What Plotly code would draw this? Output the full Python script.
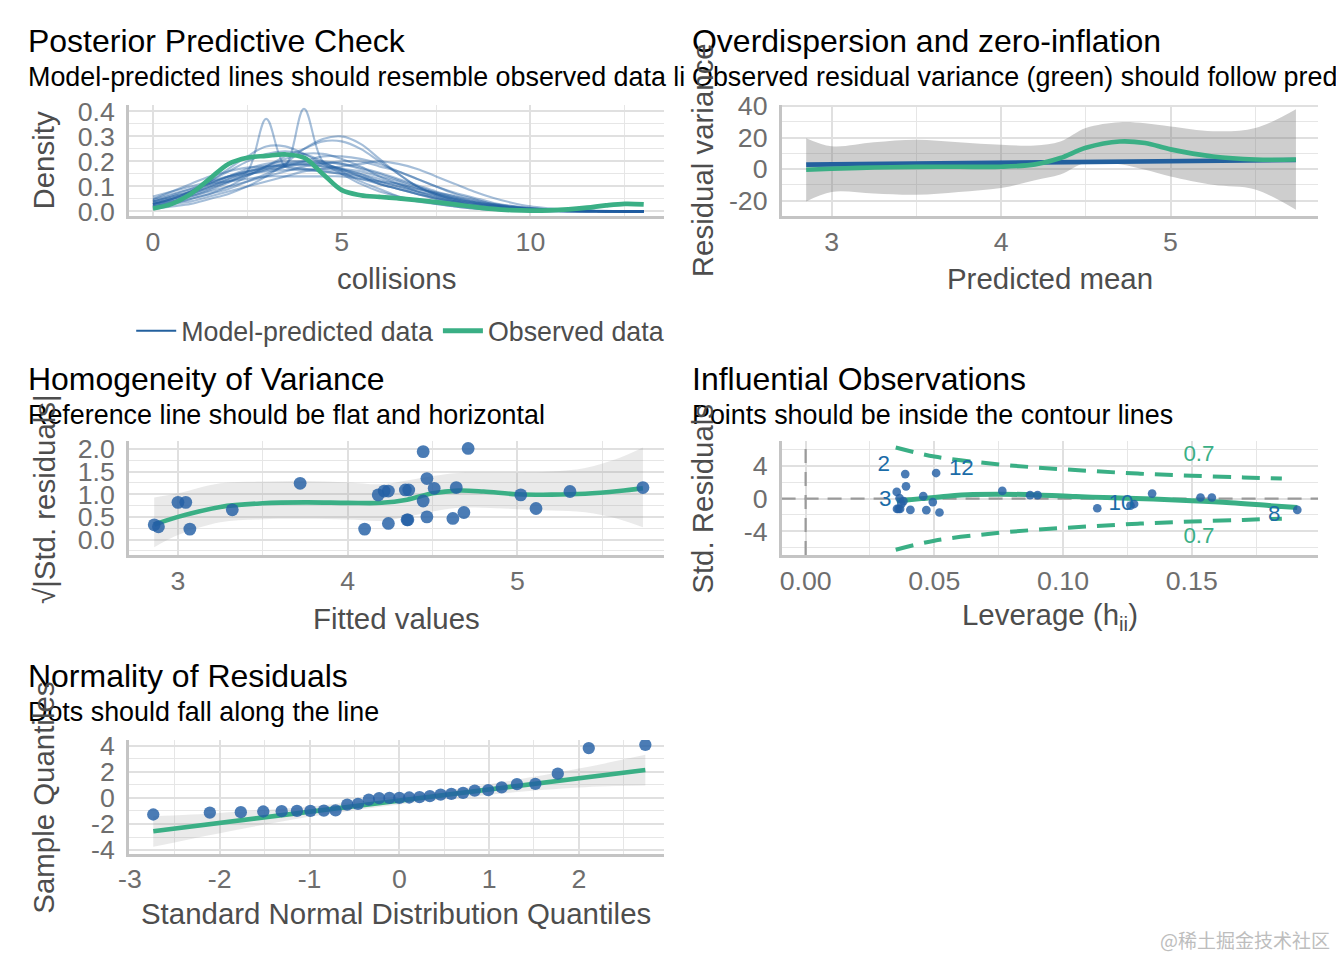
import plotly.graph_objects as go

FONT = "Liberation Sans, Arial, Helvetica, sans-serif"
GREEN = "#3aaf85"
BLUE = "#1b6ca8"
BLUE_DARK = "#23609e"
POINT = "rgba(35,95,165,0.82)"
GRID = "#e0e0e0"
GRID_MINOR = "#e6e6e6"
AXIS_LINE = "#c4c4c4"
TICK_COLOR = "#6e6e6e"
AXIS_TITLE_COLOR = "#4d4d4d"

# ---------------- Panel 1: Posterior predictive check ----------------
ppc_x = [0, 0.5, 1, 1.5, 2, 2.5, 3, 3.5, 4, 4.5, 5, 5.5, 6, 6.5, 7, 7.5, 8, 8.5,
         9, 9.5, 10, 10.5, 11, 11.5, 12, 12.5, 13]
ppc_observed = [0.012, 0.03, 0.07, 0.13, 0.19, 0.215, 0.222, 0.228, 0.215, 0.15, 0.085,
                0.065, 0.058, 0.052, 0.045, 0.037, 0.028, 0.018, 0.01, 0.005, 0.003,
                0.004, 0.008, 0.015, 0.024, 0.03, 0.028]
ppc_simulated = [
    [.04, .06, .08, .11, .14, .17, .19, .20, .20, .19, .17, .15, .12, .10, .08, .06, .045, .03, .02, .013, .008, .005, .003, .002, .001, .001, .001],
    [.03, .05, .08, .12, .16, .20, .23, .24, .23, .20, .16, .12, .09, .06, .04, .03, .02, .012, .007, .004, .002, .001, .001, 0, 0, 0, 0],
    [.02, .03, .05, .07, .10, .14, .18, .22, .25, .28, .28, .25, .20, .15, .10, .07, .045, .028, .016, .009, .005, .003, .001, .001, 0, 0, 0],
    [.03, .05, .07, .10, .13, .16, .37, .18, .17, .17, .16, .14, .11, .09, .07, .05, .035, .022, .013, .008, .004, .002, .001, 0, 0, 0, 0],
    [.04, .06, .08, .11, .14, .16, .17, .18, .41, .20, .17, .14, .11, .09, .07, .05, .04, .025, .015, .009, .005, .003, .001, 0, 0, 0, 0],
    [.05, .07, .09, .11, .12, .13, .14, .14, .14, .14, .14, .13, .12, .11, .09, .075, .06, .045, .03, .02, .013, .008, .005, .003, .002, .001, .001],
    [.02, .035, .05, .07, .09, .12, .15, .18, .20, .22, .22, .21, .19, .16, .13, .10, .07, .05, .03, .02, .012, .007, .004, .002, .001, .001, 0],
    [.05, .08, .11, .14, .16, .175, .18, .18, .17, .16, .15, .13, .11, .09, .07, .055, .04, .03, .02, .012, .007, .004, .002, .001, .001, 0, 0],
    [.01, .02, .03, .05, .07, .10, .14, .19, .25, .29, .30, .27, .21, .15, .10, .065, .04, .02, .01, .005, .002, .001, 0, 0, 0, 0, 0],
    [.03, .05, .08, .12, .17, .22, .26, .26, .23, .19, .15, .11, .08, .06, .045, .03, .02, .012, .007, .004, .002, .001, 0, 0, 0, 0, 0],
    [.03, .04, .06, .08, .10, .12, .14, .16, .18, .19, .20, .20, .18, .16, .13, .10, .075, .055, .035, .022, .013, .007, .004, .002, .001, 0, 0],
    [.06, .08, .10, .12, .14, .15, .16, .165, .165, .16, .15, .14, .12, .10, .08, .065, .05, .035, .025, .016, .01, .006, .003, .002, .001, 0, 0],
    [.03, .045, .065, .09, .12, .15, .18, .21, .23, .23, .21, .18, .14, .11, .08, .055, .035, .022, .013, .007, .004, .002, .001, 0, 0, 0, 0],
    [.02, .03, .04, .06, .08, .10, .12, .14, .16, .17, .18, .19, .20, .19, .17, .14, .11, .08, .055, .035, .02, .012, .006, .003, .001, 0, 0],
    [.04, .055, .075, .10, .13, .16, .18, .19, .19, .18, .17, .16, .14, .12, .095, .07, .05, .035, .022, .013, .008, .004, .002, .001, 0, 0, 0],
    [.035, .05, .07, .095, .12, .145, .165, .18, .19, .195, .19, .175, .155, .13, .105, .08, .06, .042, .028, .017, .01, .006, .003, .002, .001, 0, 0],
    [.045, .065, .09, .115, .14, .16, .175, .185, .185, .18, .165, .15, .13, .11, .09, .07, .052, .037, .025, .016, .01, .006, .003, .002, .001, .001, 0],
    [.025, .04, .06, .085, .115, .145, .17, .19, .20, .20, .19, .17, .15, .125, .10, .075, .055, .038, .024, .014, .008, .004, .002, .001, 0, 0, 0],
]

# ---------------- Panel 2: Overdispersion ----------------
od_x = [2.85, 3.0, 3.25, 3.5, 3.75, 4.0, 4.2, 4.35, 4.5, 4.7, 4.85, 5.0, 5.25, 5.5, 5.74]
od_predicted_var = [2.85, 3.0, 3.25, 3.5, 3.75, 4.0, 4.2, 4.35, 4.5, 4.7, 4.85, 5.0, 5.25, 5.5, 5.74]
od_observed_var = [-0.4, 0.2, 1.0, 1.4, 1.5, 1.5, 3.0, 7.0, 13.5, 17.5, 16.5, 12.5, 8.0, 6.1, 6.1]
od_lower = [-20.5, -14.5, -15.5, -16.3, -14.5, -12.0, -7.0, -3.5, 4.0, 3.0, -0.5, -4.7, -10.0, -13.0, -25.8]
od_upper = [19.6, 14.5, 17.0, 18.6, 17.0, 15.4, 15.0, 17.5, 26.0, 29.7, 29.0, 27.0, 24.0, 26.0, 37.9]

# ---------------- Panel 3: Homogeneity of variance ----------------
hv_fitted = [2.86, 2.885, 3.0, 3.046, 3.07, 3.32, 3.72, 4.10, 4.18, 4.215, 4.24, 4.24, 4.34, 4.36,
             4.35, 4.355, 4.445, 4.445, 4.467, 4.467, 4.51, 4.62, 4.64, 4.685, 4.71, 5.02, 5.11, 5.31, 5.74]
hv_sqrt_resid = [0.325, 0.28, 0.82, 0.82, 0.23, 0.655, 1.24, 0.23, 0.985, 1.07, 1.07, 0.355, 1.095, 1.095,
                 0.435, 0.435, 1.94, 0.85, 1.345, 0.50, 1.13, 0.465, 1.147, 0.597, 2.01, 0.985, 0.685, 1.06, 1.147]
hv_smooth_x = [2.86, 3.0, 3.25, 3.5, 3.75, 4.0, 4.2, 4.35, 4.5, 4.65, 4.8, 5.0, 5.2, 5.4, 5.6, 5.74]
hv_smooth_y = [0.33, 0.50, 0.72, 0.80, 0.82, 0.81, 0.81, 0.88, 1.02, 1.08, 1.06, 1.00, 0.99, 1.01, 1.07, 1.13]
hv_lower = [-0.17, 0.10, 0.38, 0.45, 0.46, 0.44, 0.41, 0.50, 0.62, 0.70, 0.70, 0.67, 0.64, 0.60, 0.45, 0.27]
hv_upper = [0.93, 1.02, 1.24, 1.28, 1.29, 1.26, 1.22, 1.30, 1.40, 1.47, 1.48, 1.48, 1.50, 1.58, 1.80, 2.03]

# ---------------- Panel 4: Influential observations ----------------
infl_leverage = [0.0354, 0.0355, 0.0361, 0.0367, 0.0365, 0.0387, 0.0390, 0.0372, 0.0407, 0.0380, 0.0457,
                 0.0469, 0.0494, 0.0507, 0.0520, 0.0764, 0.0872, 0.0901, 0.1133, 0.1276, 0.1262, 0.1346,
                 0.1534, 0.1578, 0.1910]
infl_std_resid = [0.82, -1.26, -1.26, -1.26, 0.05, 3.0, 1.5, -0.65, -1.38, -0.3, 0.3,
                  -1.41, -0.42, 3.13, -1.7, 0.94, 0.42, 0.42, -1.18, -0.66, -0.85, 0.62,
                  0.14, 0.14, -1.38]
infl_smooth_x = [0.0354, 0.045, 0.055, 0.065, 0.076, 0.09, 0.105, 0.12, 0.135, 0.15, 0.165, 0.18, 0.191]
infl_smooth_y = [-0.3, 0.0, 0.3, 0.5, 0.55, 0.45, 0.25, 0.1, -0.05, -0.25, -0.5, -0.85, -1.1]
cook_leverage = [0.035, 0.05, 0.07, 0.09, 0.11, 0.13, 0.15, 0.17, 0.185]
cook_upper = [6.25, 5.15, 4.35, 3.8, 3.4, 3.05, 2.8, 2.6, 2.45]
cook_lower = [-6.25, -5.15, -4.35, -3.8, -3.4, -3.05, -2.8, -2.6, -2.45]
cook_label_x = [0.1528, 0.1528]
cook_label_y = [5.3, -4.75]
cook_label_text = ["0.7", "0.7"]
infl_label_text = ["2", "12", "3", "10", "8"]
infl_label_x = [0.0303, 0.0605, 0.0309, 0.1225, 0.182]
infl_label_y = [4.1, 3.55, -0.2, -0.7, -2.1]
infl_reference_level = 0

# ---------------- Panel 5: Normality of residuals ----------------
qq_theoretical = [-2.74, -2.11, -1.765, -1.515, -1.31, -1.14, -0.99, -0.84, -0.71, -0.58, -0.46, -0.34,
                  -0.225, -0.11, 0, 0.11, 0.225, 0.34, 0.46, 0.58, 0.71, 0.84, 0.99, 1.14, 1.31,
                  1.515, 1.765, 2.11, 2.74]
qq_sample = [-1.27, -1.12, -1.09, -1.04, -1.02, -1.0, -0.99, -0.97, -0.95, -0.51, -0.46, -0.13,
             -0.02, 0.0, 0.01, 0.03, 0.06, 0.13, 0.25, 0.31, 0.38, 0.56, 0.59, 0.81, 1.05, 1.08,
             1.86, 3.82, 4.07]
qq_line_x = [-2.74, 2.74]
qq_line_y = [-2.55, 2.14]
qq_band_x = [-2.74, -2.0, -1.0, 0.0, 1.0, 2.0, 2.74]
qq_band_lower = [-3.75, -2.7, -1.45, -0.5, 0.25, 0.8, 0.95]
qq_band_upper = [-1.4, -1.15, -0.65, 0.1, 1.05, 2.25, 3.3]

# Axis ranges and tick labels
ppc_x_range = [-0.637, 13.55]
ppc_y_range = [-0.02, 0.426]
od_x_range = [2.705, 5.871]
od_y_range = [-30.0, 40.7]
hv_x_range = [2.711, 5.867]
hv_y_range = [-0.34, 2.165]
infl_x_range = [-0.00933, 0.1991]
infl_y_range = [-6.89, 7.0]
qq_x_range = [-3.011, 2.953]
qq_y_range = [-4.27, 4.43]

od_y_ticks = [-20, 0, 20, 40]
od_y_text = ["-20", "0", "20", "40"]
infl_y_ticks = [-4, 0, 4]
infl_y_text = ["-4", "0", "4"]
qq_x_ticks = [-3, -2, -1, 0, 1, 2]
qq_x_text = ["-3", "-2", "-1", "0", "1", "2"]
qq_y_ticks = [-4, -2, 0, 2, 4]
qq_y_text = ["-4", "-2", "0", "2", "4"]

# The page keeps the browser's default 8px body margin; the figure fits inside the window.
PAGE_MARGIN = 8
W, H = 1344 - 2 * PAGE_MARGIN, 960 - 2 * PAGE_MARGIN
# Layout positions below are given in reference-image pixels; the photographed page
# was observed to map page pixels p -> A*p + B, so positions are pre-compensated.
AX, BX = 0.9907, 12.26
AY, BY = 0.9767, 12.93
FS = 1.015  # font scale compensation


def px(x):
    p = (x - BX) / AX
    return (p - PAGE_MARGIN) / W


def py(y):
    p = (y - BY) / AY
    return 1 - (p - PAGE_MARGIN) / H


LEFT_COL = [px(130), px(665)]
RIGHT_COL = [px(782), min(1.0, px(1318))]
ROW1 = [py(216), py(104)]
ROW2 = [py(556), py(442)]
ROW3 = [py(856), py(742)]

fig = go.Figure()

NOHOVER = dict(showlegend=False, hoverinfo="skip")

# Panel 1 traces
for curve in ppc_simulated:
    fig.add_trace(go.Scatter(x=ppc_x, y=curve, mode="lines",
                             line=dict(color="rgba(30,92,160,0.4)", width=2.1, shape="spline", smoothing=1.0),
                             xaxis="x", yaxis="y", **NOHOVER))
fig.add_trace(go.Scatter(x=ppc_x, y=ppc_observed, mode="lines",
                         line=dict(color=GREEN, width=4.6, shape="spline", smoothing=1.0),
                         xaxis="x", yaxis="y", **NOHOVER))
fig.add_trace(go.Scatter(x=[None], y=[None], mode="lines", name="Model-predicted data",
                         line=dict(color=BLUE_DARK, width=2), xaxis="x", yaxis="y"))
fig.add_trace(go.Scatter(x=[None], y=[None], mode="lines", name="Observed data",
                         line=dict(color=GREEN, width=5), xaxis="x", yaxis="y"))

# Panel 2 traces (ribbon drawn as lower edge + upper edge filled to it)
fig.add_trace(go.Scatter(x=od_x, y=od_lower, mode="lines", line=dict(width=0, shape="spline", color="rgba(0,0,0,0)"),
                         xaxis="x2", yaxis="y2", **NOHOVER))
fig.add_trace(go.Scatter(x=od_x, y=od_upper, mode="lines", fill="tonexty",
                         fillcolor="rgba(120,120,120,0.36)", line=dict(width=0, shape="spline", color="rgba(0,0,0,0)"),
                         xaxis="x2", yaxis="y2", **NOHOVER))
fig.add_trace(go.Scatter(x=od_x, y=od_predicted_var, mode="lines",
                         line=dict(color=BLUE_DARK, width=4.6),
                         xaxis="x2", yaxis="y2", **NOHOVER))
fig.add_trace(go.Scatter(x=od_x, y=od_observed_var, mode="lines",
                         line=dict(color=GREEN, width=4.6, shape="spline", smoothing=1.0),
                         xaxis="x2", yaxis="y2", **NOHOVER))

# Panel 3 traces
fig.add_trace(go.Scatter(x=hv_smooth_x, y=hv_lower, mode="lines", line=dict(width=0, shape="spline", color="rgba(0,0,0,0)"),
                         xaxis="x3", yaxis="y3", **NOHOVER))
fig.add_trace(go.Scatter(x=hv_smooth_x, y=hv_upper, mode="lines", fill="tonexty",
                         fillcolor="rgba(150,150,150,0.2)", line=dict(width=0, shape="spline", color="rgba(0,0,0,0)"),
                         xaxis="x3", yaxis="y3", **NOHOVER))
fig.add_trace(go.Scatter(x=hv_smooth_x, y=hv_smooth_y, mode="lines",
                         line=dict(color=GREEN, width=4.6, shape="spline", smoothing=1.0),
                         xaxis="x3", yaxis="y3", **NOHOVER))
fig.add_trace(go.Scatter(x=hv_fitted, y=hv_sqrt_resid, mode="markers",
                         marker=dict(color=POINT, size=12.8, line=dict(width=0)),
                         xaxis="x3", yaxis="y3", **NOHOVER))

# Panel 4 traces
for yy in (cook_upper, cook_lower):
    fig.add_trace(go.Scatter(x=cook_leverage, y=yy, mode="lines",
                             line=dict(color=GREEN, width=4, dash="18px,11px", shape="spline"),
                             xaxis="x4", yaxis="y4", **NOHOVER))
fig.add_trace(go.Scatter(x=infl_smooth_x, y=infl_smooth_y, mode="lines",
                         line=dict(color=GREEN, width=5, shape="spline", smoothing=1.0),
                         xaxis="x4", yaxis="y4", **NOHOVER))
fig.add_trace(go.Scatter(x=infl_leverage, y=infl_std_resid, mode="markers",
                         marker=dict(color=POINT, size=8.7, line=dict(width=0)),
                         xaxis="x4", yaxis="y4", **NOHOVER))
fig.add_trace(go.Scatter(x=cook_label_x, y=cook_label_y, mode="text", text=cook_label_text,
                         textfont=dict(color=GREEN, size=22.4, family=FONT),
                         xaxis="x4", yaxis="y4", **NOHOVER))
fig.add_trace(go.Scatter(x=infl_label_x, y=infl_label_y, mode="text", text=infl_label_text,
                         textfont=dict(color=BLUE, size=22.4, family=FONT),
                         xaxis="x4", yaxis="y4", **NOHOVER))

# Panel 5 traces
fig.add_trace(go.Scatter(x=qq_band_x, y=qq_band_lower, mode="lines", line=dict(width=0, shape="spline", color="rgba(0,0,0,0)"),
                         xaxis="x5", yaxis="y5", **NOHOVER))
fig.add_trace(go.Scatter(x=qq_band_x, y=qq_band_upper, mode="lines", fill="tonexty",
                         fillcolor="rgba(150,150,150,0.2)", line=dict(width=0, shape="spline", color="rgba(0,0,0,0)"),
                         xaxis="x5", yaxis="y5", **NOHOVER))
fig.add_trace(go.Scatter(x=qq_line_x, y=qq_line_y, mode="lines",
                         line=dict(color=GREEN, width=4.6),
                         xaxis="x5", yaxis="y5", **NOHOVER))
fig.add_trace(go.Scatter(x=qq_theoretical, y=qq_sample, mode="markers",
                         marker=dict(color=POINT, size=12.3, line=dict(width=0)),
                         xaxis="x5", yaxis="y5", **NOHOVER))


def axis(domain, rng, anchor, dtick=None, minor_dtick=None, tickvals=None, ticktext=None,
         tickformat=None, standoff=0):
    d = dict(domain=domain, range=rng, anchor=anchor, showline=True, linecolor=AXIS_LINE,
             linewidth=2.5, ticks="", showgrid=True, gridcolor=GRID, gridwidth=1.8,
             zeroline=False, fixedrange=True, ticklabelstandoff=standoff,
             tickfont=dict(size=26.3 * FS, color=TICK_COLOR, family=FONT),
             minor=dict(tick0=0, dtick=minor_dtick, showgrid=True, gridcolor=GRID_MINOR,
                        gridwidth=1.4, ticks=""))
    if tickvals is not None:
        d.update(tickmode="array", tickvals=tickvals, ticktext=ticktext)
    else:
        d.update(tickmode="linear", tick0=0, dtick=dtick)
    if tickformat:
        d["tickformat"] = tickformat
    return d


YS = 6
fig.update_layout(
    width=W, height=H, autosize=False,
    margin=dict(l=0, r=0, t=0, b=0, pad=0),
    paper_bgcolor="white", plot_bgcolor="white",
    font=dict(family=FONT),
    xaxis=axis(LEFT_COL, ppc_x_range, "y", dtick=5, minor_dtick=2.5),
    yaxis=axis(ROW1, ppc_y_range, "x", dtick=0.1, minor_dtick=0.05, tickformat=".1f", standoff=YS),
    xaxis2=axis(RIGHT_COL, od_x_range, "y2", dtick=1, minor_dtick=0.5),
    yaxis2=axis(ROW1, od_y_range, "x2", minor_dtick=10, tickvals=od_y_ticks, ticktext=od_y_text, standoff=YS),
    xaxis3=axis(LEFT_COL, hv_x_range, "y3", dtick=1, minor_dtick=0.5),
    yaxis3=axis(ROW2, hv_y_range, "x3", dtick=0.5, minor_dtick=0.25, tickformat=".1f", standoff=YS),
    xaxis4=axis(RIGHT_COL, infl_x_range, "y4", dtick=0.05, minor_dtick=0.025, tickformat=".2f"),
    yaxis4=axis(ROW2, infl_y_range, "x4", minor_dtick=2, tickvals=infl_y_ticks, ticktext=infl_y_text, standoff=YS),
    xaxis5=axis(LEFT_COL, qq_x_range, "y5", minor_dtick=0.5, tickvals=qq_x_ticks, ticktext=qq_x_text),
    yaxis5=axis(ROW3, qq_y_range, "x5", minor_dtick=1, tickvals=qq_y_ticks, ticktext=qq_y_text, standoff=YS),
    legend=dict(orientation="h", x=px(401), xanchor="center", y=py(331), yanchor="middle",
                font=dict(size=26.4 * FS, color=AXIS_TITLE_COLOR, family=FONT), itemwidth=40,
                bgcolor="rgba(0,0,0,0)", traceorder="normal"),
    showlegend=True,
)

# Reference dashed lines in influential observations panel (at residual 0 and leverage 0)
fig.add_shape(type="line", xref="x4", yref="y4", x0=infl_x_range[0], x1=infl_x_range[1],
              y0=infl_reference_level, y1=infl_reference_level, layer="between",
              line=dict(color="#9a9a9a", width=2.2, dash="14px,9px"))
fig.add_shape(type="line", xref="x4", yref="y4", x0=infl_reference_level, x1=infl_reference_level,
              y0=infl_y_range[0], y1=infl_y_range[1], layer="between",
              line=dict(color="#9a9a9a", width=2.2, dash="14px,9px"))

annotations = []


def text(x, y, s, size, color="#000000", xanchor="left", angle=0):
    annotations.append(dict(x=px(x), y=py(y), xref="paper", yref="paper", text=s, showarrow=False,
                            xanchor=xanchor, yanchor="middle", textangle=angle,
                            font=dict(size=size * FS, color=color, family=FONT)))


# Titles & subtitles
text(27, 40, "Posterior Predictive Check", 31.5)
text(27, 76, "Model-predicted lines should resemble observed data li", 26.5)
text(690, 40, "Overdispersion and zero-inflation", 31.5)
text(690, 76, "Observed residual variance (green) should follow pred", 26.5)
text(27, 379, "Homogeneity of Variance", 31.5)
text(27, 415, "Reference line should be flat and horizontal", 26.5)
text(690, 379, "Influential Observations", 31.5)
text(690, 415, "Points should be inside the contour lines", 26.5)
text(27, 678, "Normality of Residuals", 31.5)
text(27, 714, "Dots should fall along the line", 26.5)

# Axis titles
text(397, 278, "collisions", 29, AXIS_TITLE_COLOR, "center")
text(1050, 278, "Predicted mean", 29, AXIS_TITLE_COLOR, "center")
text(397, 620, "Fitted values", 29, AXIS_TITLE_COLOR, "center")
text(1050, 618, "Leverage (h<sub>ii</sub>)", 29, AXIS_TITLE_COLOR, "center")
text(397, 916, "Standard Normal Distribution Quantiles", 29, AXIS_TITLE_COLOR, "center")
text(45, 160, "Density", 29, AXIS_TITLE_COLOR, "center", -90)
text(703, 160, "Residual variance", 29, AXIS_TITLE_COLOR, "center", -90)
text(45, 500, "√|Std. residuals|", 29, AXIS_TITLE_COLOR, "center", -90)
text(703, 500, "Std. Residuals", 29, AXIS_TITLE_COLOR, "center", -90)
text(45, 800, "Sample Quantiles", 29, AXIS_TITLE_COLOR, "center", -90)

# Watermark
annotations.append(dict(x=px(1332), y=py(942), xref="paper", yref="paper", text="@稀土掘金技术社区",
                        showarrow=False, xanchor="right", yanchor="middle",
                        font=dict(size=19, color="#bdbdbd", family="Noto Sans CJK SC")))

fig.update_layout(annotations=annotations)

fig.write_html("out.html", config={"displayModeBar": False})
